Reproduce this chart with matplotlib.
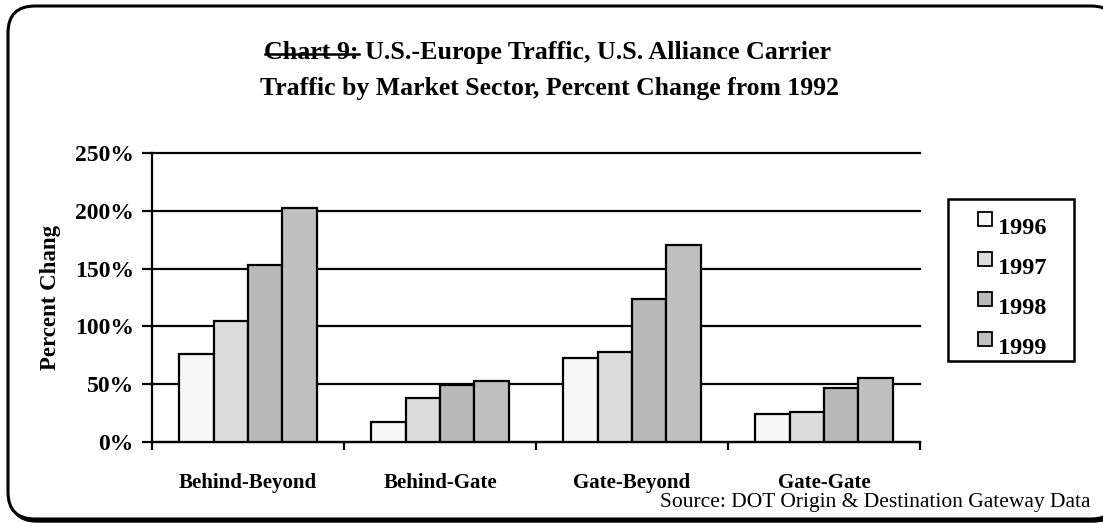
import numpy as np
import matplotlib
matplotlib.use("Agg")
import matplotlib.pyplot as plt
from matplotlib.patches import FancyBboxPatch, Rectangle
from matplotlib.lines import Line2D
from matplotlib.transforms import Affine2D

# data
sectors = ["Behind-Beyond", "Behind-Gate", "Gate-Beyond", "Gate-Gate"]
years = ["1996", "1997", "1998", "1999"]
pct_1996 = [76, 17, 73, 24]
pct_1997 = [105, 38, 78, 26]
pct_1998 = [153, 49, 124, 47]
pct_1999 = [202, 53, 170, 55]
series = [pct_1996, pct_1997, pct_1998, pct_1999]
colors = ["#f7f7f7", "#dddddd", "#b9b9b9", "#c0c0c0"]
yticks = [0, 50, 100, 150, 200, 250]

plt.rcParams['font.family'] = ['Liberation Serif', 'DejaVu Serif']

W, H = 1103, 523
fig = plt.figure(figsize=(W / 100, H / 100), dpi=100)
# pixel coords, origin bottom-left
px = Affine2D().scale(1 / W, 1 / H) + fig.transFigure

# rounded frame with a drop shadow, right edge runs off the picture
shadow = FancyBboxPatch((10, H - 522), 1110, 514,
                        boxstyle="round,pad=0,rounding_size=27",
                        transform=px, facecolor="black", edgecolor="black",
                        lw=1, zorder=-3)
frame = FancyBboxPatch((8, H - 519), 1110, 513,
                       boxstyle="round,pad=0,rounding_size=27",
                       transform=px, facecolor="white", edgecolor="black",
                       lw=2.2, zorder=-2)
fig.patches.extend([shadow, frame])

ax = fig.add_axes([152 / W, 1 - 442 / H, 768 / W, 289 / H])
ax.patch.set_alpha(0)

x = np.arange(len(sectors))
bw = 0.179
for i, vals in enumerate(series):
    ax.bar(x + (i - 1.5) * bw, vals, bw, color=colors[i],
           edgecolor="black", linewidth=1.6, label=years[i], zorder=3)

ax.set_xlim(-0.5, len(sectors) - 0.5)
ax.set_ylim(0, 250)
ax.set_yticks(yticks)
ax.set_yticklabels([f"{v}%" for v in yticks], fontsize=17, fontweight="bold")
ax.yaxis.grid(True, color="black", linewidth=1.6, zorder=0)
for gl in ax.get_ygridlines():
    gl.set_clip_on(False)
ax.set_xticks(np.arange(len(sectors) + 1) - 0.5)
ax.set_xticklabels([])
ax.set_xticks(x, minor=True)
ax.set_xticklabels(sectors, minor=True, fontsize=15, fontweight="bold")
ax.tick_params(axis="x", which="minor", length=0, pad=22)
ax.tick_params(axis="x", which="major", length=6, width=1.6, direction="out")
ax.tick_params(axis="y", length=7, width=1.6, direction="out", pad=6)
for s in ["top", "right"]:
    ax.spines[s].set_visible(False)
for s in ["left", "bottom"]:
    ax.spines[s].set_linewidth(1.6)
ax.set_ylabel("Percent Chang", fontsize=16.5, fontweight="bold", labelpad=10)

# title with struck "Chart 9:"
line1 = "Chart 9: U.S.-Europe Traffic, U.S. Alliance Carrier"
t1 = fig.text(548 / W, 1 - 52 / H, line1, ha="center", va="center",
              fontsize=18.7, fontweight="bold")
fig.text(550 / W, 1 - 88 / H, "Traffic by Market Sector, Percent Change from 1992",
         ha="center", va="center", fontsize=18.5, fontweight="bold")
fig.canvas.draw()
r = fig.canvas.get_renderer()
bb = t1.get_window_extent(r)
probe = fig.text(0, 0, "Chart 9:", fontsize=18.7, fontweight="bold")
pw = probe.get_window_extent(r).width
probe.remove()
ys = bb.y0 + bb.height * 0.42
fig.add_artist(Line2D([bb.x0, bb.x0 + pw], [ys, ys], transform=px,
                      color="black", lw=1.8))

# legend box
fig.patches.append(Rectangle((948, H - 361), 126, 162, transform=px,
                             fill=False, edgecolor="black", lw=1.8))
for i, yr in enumerate(years):
    top = 212 + 40 * i
    fig.patches.append(Rectangle((978, H - top - 14), 14, 14, transform=px,
                                 facecolor=colors[i], edgecolor="black", lw=1.3))
    fig.text(998 / W, 1 - (top + 16) / H, yr, ha="left", va="center",
             fontsize=17.5, fontweight="bold")

fig.text(1090 / W, 1 - 502 / H, "Source: DOT Origin & Destination Gateway Data",
         ha="right", va="center", fontsize=15.5)

fig.savefig("out.png", dpi=100)
